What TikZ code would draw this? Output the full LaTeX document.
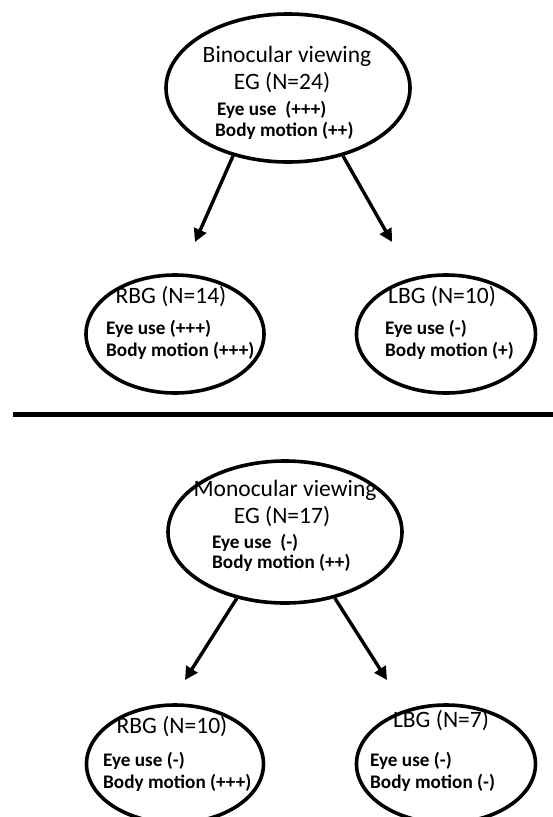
\documentclass[tikz,border=0pt]{standalone}
\usepackage{fontspec}
\setmainfont{Carlito}
\usetikzlibrary{shapes.geometric,arrows.meta}
\tikzset{
  grp/.style={draw=black,line width=3.6pt,ellipse,inner sep=0pt},
  ttl/.style={font=\fontsize{23.5}{26}\selectfont,inner sep=0pt,anchor=mid},
  itm/.style={font=\fontsize{19.2}{22}\selectfont\bfseries,inner sep=0pt,anchor=mid west},
  arr/.style={line width=3.4pt,-{Triangle[length=13pt,width=13pt]}},
}
\begin{document}
\begin{tikzpicture}[x=1pt,y=-1pt]
\useasboundingbox (0,0) rectangle (553,817);
% top half
\node[grp,minimum width=244pt,minimum height=148pt] (bin) at (288,88) {};
\node[ttl] (binT) at (287,60) {Binocular viewing};
\node[ttl] (binN) at (282,87) {EG (N=24)};
\node[itm] (binE) at (217,113) {Eye use \ (+++)};
\node[itm] (binB) at (215,134) {Body motion (++)};
\node[grp,minimum width=178pt,minimum height=118pt] (rbg1) at (175,334) {};
\node[ttl] (rbg1T) at (171,301) {RBG (N=14)};
\node[itm] (rbg1E) at (106,332) {Eye use (+++)};
\node[itm] (rbg1B) at (106,354) {Body motion (+++)};
\node[grp,minimum width=179pt,minimum height=118pt] (lbg1) at (446,334) {};
\node[ttl] (lbg1T) at (442,301) {LBG (N=10)};
\node[itm] (lbg1E) at (385,332) {Eye use (-)};
\node[itm] (lbg1B) at (385,354) {Body motion (+)};
\coordinate (t1) at (195,242);
\coordinate (t2) at (392,242);
\draw[arr] (bin.231) -- (t1);
\draw[arr] (bin.309) -- (t2);
% separator
\coordinate (s1) at (13,414.5);
\coordinate (s2) at (553,414.5);
\draw[line width=5pt] (s1) -- (s2);
% bottom half
\node[grp,minimum width=234pt,minimum height=142pt] (mon) at (285,532) {};
\node[ttl] (monT) at (285,494) {Monocular viewing};
\node[ttl] (monN) at (282,521) {EG (N=17)};
\node[itm] (monE) at (212,546) {Eye use \ (-)};
\node[itm] (monB) at (212,566) {Body motion (++)};
\node[grp,minimum width=177pt,minimum height=118pt] (rbg2) at (175,764) {};
\node[ttl] (rbg2T) at (172,731) {RBG (N=10)};
\node[itm] (rbg2E) at (103,764) {Eye use (-)};
\node[itm] (rbg2B) at (103,786) {Body motion (+++)};
\node[grp,minimum width=179pt,minimum height=118pt] (lbg2) at (446,764) {};
\node[ttl] (lbg2T) at (441,725) {LBG (N=7)};
\node[itm] (lbg2E) at (370,764) {Eye use (-)};
\node[itm] (lbg2B) at (370,786) {Body motion (-)};
\coordinate (t3) at (185,680);
\coordinate (t4) at (387,680);
\draw[arr] (mon.234) -- (t3);
\draw[arr] (mon.307) -- (t4);
\end{tikzpicture}
\end{document}
